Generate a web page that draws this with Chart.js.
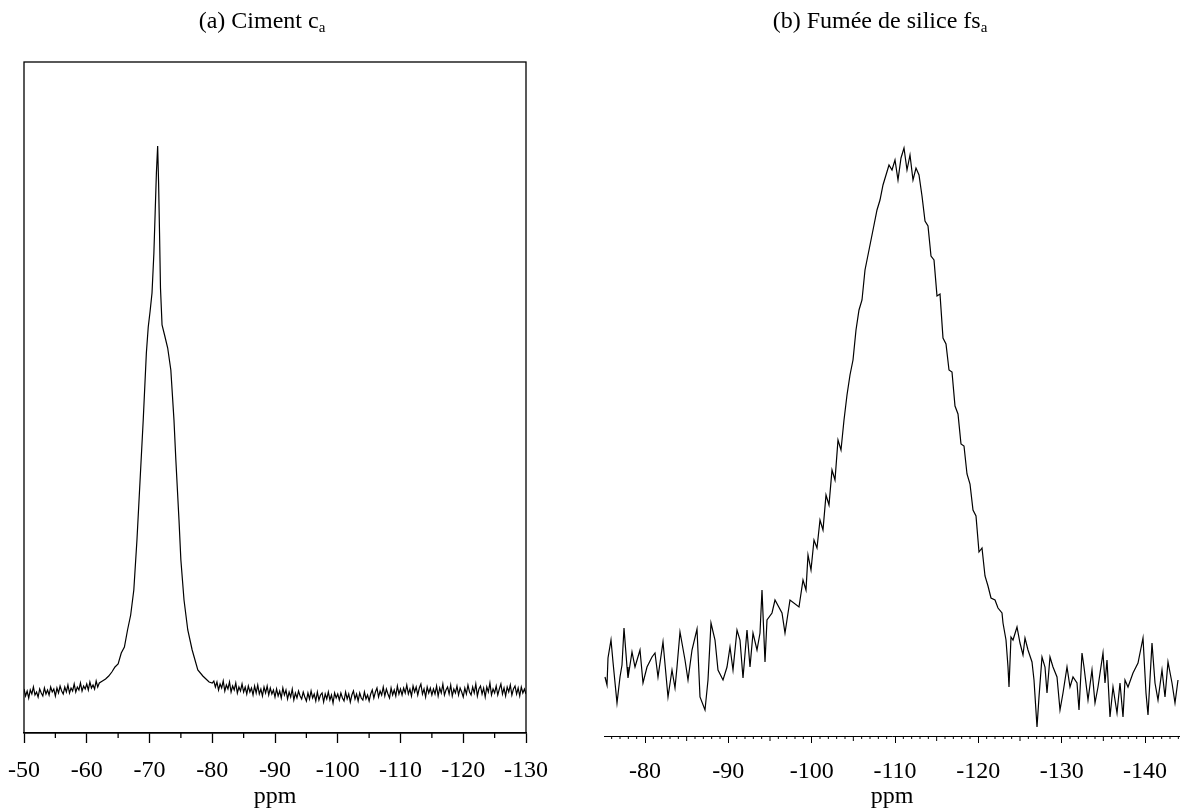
<!DOCTYPE html>
<html><head><meta charset="utf-8">
<script src="https://cdn.jsdelivr.net/npm/chart.js@4.4.0/dist/chart.umd.min.js"></script>
<style>
html,body{margin:0;padding:0;background:#fff;}
#wrap{position:relative;width:1180px;height:808px;overflow:hidden;background:#fff;}
canvas{position:absolute;top:0;}
.ttl{position:absolute;top:7px;font-family:'Liberation Serif','Times New Roman',serif;font-size:24px;line-height:27px;color:#000;white-space:nowrap;text-align:center;}
.ttl sub{font-size:15px;vertical-align:-4px;line-height:0;}
</style></head>
<body><div id="wrap">
<canvas id="ca" width="590" height="808" style="left:0"></canvas>
<canvas id="cb" width="590" height="808" style="left:590px"></canvas>
<div class="ttl" style="left:112px;width:300px">(a) Ciment c<sub>a</sub></div>
<div class="ttl" style="left:730px;width:300px">(b) Fumée de silice fs<sub>a</sub></div>
</div>
<script>
// ---------- Panel (a): Ciment c_a ----------
const ppmA = [
-50,-50.25,-50.5,-50.75,-51,-51.25,-51.5,-51.75,-52,-52.25,-52.5,-52.75,-53,-53.25,-53.5,-53.75,-54,-54.25,-54.5,-54.75,
-55,-55.25,-55.5,-55.75,-56,-56.25,-56.5,-56.75,-57,-57.25,-57.5,-57.75,-58,-58.25,-58.5,-58.75,-59,-59.25,-59.5,-59.75,
-60,-60.25,-60.5,-60.75,-61,-61.25,-61.5,-61.75,-62,
-62.5,-63,-63.5,-64,-64.5,-65,-65.5,-66,-66.5,-67,-67.5,-68,-68.5,-69,-69.5,
-69.8,-70.1,-70.4,-70.7,-70.9,-71.1,-71.3,-71.45,-71.6,-71.75,-72,
-72.4,-72.9,-73.4,-73.9,-74.2,-74.7,-75,-75.5,-76.1,-76.8,-77.7,-78.5,-79,-79.5,-80,
-80.25,-80.5,-80.75,-81,-81.25,-81.5,-81.75,-82,-82.25,-82.5,-82.75,-83,-83.25,-83.5,-83.75,-84,-84.25,-84.5,-84.75,-85,
-85.25,-85.5,-85.75,-86,-86.25,-86.5,-86.75,-87,-87.25,-87.5,-87.75,-88,-88.25,-88.5,-88.75,-89,-89.25,-89.5,-89.75,-90,
-90.25,-90.5,-90.75,-91,-91.25,-91.5,-91.75,-92,-92.25,-92.5,-92.75,-93,-93.25,-93.5,-93.75,-94,-94.25,-94.5,-94.75,-95,
-95.25,-95.5,-95.75,-96,-96.25,-96.5,-96.75,-97,-97.25,-97.5,-97.75,-98,-98.25,-98.5,-98.75,-99,-99.25,-99.5,-99.75,-100,
-100.25,-100.5,-100.75,-101,-101.25,-101.5,-101.75,-102,-102.25,-102.5,-102.75,-103,-103.25,-103.5,-103.75,-104,-104.25,-104.5,-104.75,-105,
-105.25,-105.5,-105.75,-106,-106.25,-106.5,-106.75,-107,-107.25,-107.5,-107.75,-108,-108.25,-108.5,-108.75,-109,-109.25,-109.5,-109.75,-110,
-110.25,-110.5,-110.75,-111,-111.25,-111.5,-111.75,-112,-112.25,-112.5,-112.75,-113,-113.25,-113.5,-113.75,-114,-114.25,-114.5,-114.75,-115,
-115.25,-115.5,-115.75,-116,-116.25,-116.5,-116.75,-117,-117.25,-117.5,-117.75,-118,-118.25,-118.5,-118.75,-119,-119.25,-119.5,-119.75,-120,
-120.25,-120.5,-120.75,-121,-121.25,-121.5,-121.75,-122,-122.25,-122.5,-122.75,-123,-123.25,-123.5,-123.75,-124,-124.25,-124.5,-124.75,-125,
-125.25,-125.5,-125.75,-126,-126.25,-126.5,-126.75,-127,-127.25,-127.5,-127.75,-128,-128.25,-128.5,-128.75,-129,-129.25,-129.5,-129.75,-130
];
const intA = [
44,37,42,35,43,39,46,38,41,36,44,40,37,45,39,43,38,46,41,44,
37,45,40,47,42,39,46,41,48,40,45,42,49,41,46,43,50,42,47,44,
49,43,51,45,48,44,52,46,50,
52,54,57,61,66,69,80,86,103,118,143,193,253,313,380,
406,422,440,480,520,560,587,550,500,445,408,
398,385,363,313,273,213,173,133,103,83,63,57,54,51,50,
52,46,51,43,49,45,52,42,48,44,51,41,47,43,50,40,46,42,49,41,
46,39,47,41,45,38,47,40,48,39,44,37,46,40,47,38,45,39,43,36,
44,37,42,35,45,38,43,34,41,36,44,33,40,35,42,37,34,41,36,32,
40,34,42,35,39,32,41,33,38,40,31,39,34,41,33,38,30,40,35,39,
33,40,35,32,41,34,39,31,38,42,34,39,32,40,35,33,41,34,38,32,
39,43,35,41,45,36,42,38,46,37,44,39,35,45,38,43,37,47,39,44,
38,45,40,48,39,44,37,47,41,46,38,45,49,39,44,36,46,40,45,38,
44,39,47,37,45,40,49,38,43,46,39,48,37,44,40,47,38,45,41,36,
45,39,48,41,38,46,40,49,37,44,47,39,45,36,46,41,50,38,44,40,
47,38,44,49,39,45,37,46,41,48,38,44,47,39,45,37,46,40,44,39
];
const ticksA = [-50,-60,-70,-80,-90,-100,-110,-120,-130];
const minorA = [-55,-65,-75,-85,-95,-105,-115,-125];

// ---------- Panel (b): Fumée de silice fs_a ----------
const ppmB = [
-75.2,-75.44,-75.56,-75.92,-76.16,-76.64,-77.0,-77.24,-77.48,-77.84,-77.96,-78.44,-78.8,-79.4,-79.76,
-80.24,-80.84,-81.2,-81.56,-82.16,-82.76,-83.24,-83.6,-83.84,-84.2,-84.8,-85.16,-85.64,-86.24,-86.6,
-87.2,-87.56,-87.92,-88.4,-88.76,-89.36,-89.84,-90.2,-90.56,-91.04,-91.4,-91.76,-92.24,-92.6,-92.96,
-93.44,-93.8,-94.04,-94.4,-94.64,-95.24,-95.6,-96.44,-96.8,-97.4,-98.48,-98.96,-99.32,-99.56,-99.92,
-100.28,-100.64,-101.0,-101.36,-101.72,-102.08,-102.44,-102.8,-103.16,-103.52,-103.88,-104.24,-104.6,-104.96,
-105.32,-105.68,-106.04,-106.4,-106.76,-107.12,-107.48,-107.84,-108.2,-108.56,-108.92,-109.28,-109.64,-110.0,
-110.36,-110.72,-111.08,-111.44,-111.8,-112.16,-112.52,-112.88,-113.24,-113.6,-113.96,-114.32,-114.68,-115.04,
-115.4,-115.76,-116.12,-116.48,-116.84,-117.2,-117.56,-117.92,-118.28,-118.64,-119.0,-119.36,-119.72,-120.08,
-120.44,-120.8,-121.16,-121.52,-122.0,-122.36,-122.84,-122.96,-123.32,-123.56,-123.68,-123.92,-124.16,-124.64,
-125.0,-125.36,-125.6,-125.96,-126.44,-126.68,-127.04,-127.28,-127.64,-128.0,-128.24,-128.6,-128.96,-129.44,
-129.8,-130.16,-130.64,-131.0,-131.36,-131.84,-132.08,-132.44,-132.68,-133.16,-133.64,-134.0,-134.36,-134.96,
-135.2,-135.44,-135.8,-136.16,-136.64,-137.0,-137.36,-137.6,-137.96,-138.56,-139.16,-139.76,-140.12,-140.36,
-140.84,-141.2,-141.56,-142.04,-142.4,-142.76,-143.24,-143.6,-143.96
];
const intB = [
59,51,78,96,74,33,59,71,108,69,58,84,69,86,53,
69,79,83,59,94,39,66,48,69,104,76,56,86,107,39,
26,56,113,96,66,56,69,89,66,106,96,58,106,69,103,
86,103,146,74,116,123,136,123,103,136,129,156,146,181,166,
196,188,216,206,241,231,266,256,296,286,316,341,361,376,
406,426,436,466,481,496,511,526,536,551,561,571,566,576,
556,578,588,566,581,556,568,561,540,515,510,480,476,440,
442,398,392,366,364,330,322,292,290,262,252,226,220,184,
188,160,150,138,136,128,123,113,96,69,49,99,96,109,
93,81,98,86,74,56,9,39,79,69,43,79,69,59,
26,43,69,49,59,53,26,83,69,36,66,33,49,83,
53,76,19,49,23,53,19,56,49,63,73,98,43,21,
93,53,36,66,39,74,53,33,56
];
const ticksB = [-80,-90,-100,-110,-120,-130,-140];
const midB = [-85,-95,-105,-115,-125,-135];

const FONT = "'Liberation Serif','Times New Roman',serif";

const frameBox = {
  id: 'frameBox',
  afterDraw(chart, args, opts) {
    if (!opts.show) return;
    const ctx = chart.ctx, a = chart.chartArea;
    ctx.save();
    ctx.strokeStyle = opts.color; ctx.lineWidth = opts.width;
    ctx.strokeRect(a.left, a.top, a.right - a.left, a.bottom - a.top);
    ctx.restore();
  }
};
const minorTicks = {
  id: 'minorTicks',
  afterDraw(chart, args, opts) {
    const s = chart.scales.x, ctx = chart.ctx;
    ctx.save();
    ctx.strokeStyle = opts.color; ctx.lineWidth = opts.width;
    (opts.sets || []).forEach(set => {
      set.values.forEach(v => {
        const px = s.getPixelForValue(v);
        ctx.beginPath(); ctx.moveTo(px, s.top); ctx.lineTo(px, s.top + set.length); ctx.stroke();
      });
    });
    ctx.restore();
  }
};

function makeChart(id, ppm, inten, cfg) {
  return new Chart(document.getElementById(id), {
    type: 'line',
    data: { datasets: [{
      data: ppm.map((x, i) => ({ x: x, y: inten[i] })),
      borderColor: '#000', borderWidth: 1.2, pointRadius: 0, fill: false, tension: 0
    }]},
    options: {
      responsive: false, animation: false, devicePixelRatio: 1,
      layout: { padding: cfg.padding },
      plugins: {
        legend: { display: false }, tooltip: { enabled: false }, title: { display: false },
        frameBox: { show: cfg.box, color: '#000', width: 1.3 },
        minorTicks: { color: '#000', width: cfg.tickWidth, sets: cfg.minorSets }
      },
      scales: {
        x: {
          type: 'linear', min: cfg.min, max: cfg.max, reverse: true,
          afterBuildTicks: s => { s.ticks = cfg.ticks.map(v => ({ value: v })); },
          afterFit: s => { s.height = cfg.axisHeight; s.paddingLeft = 0; s.paddingRight = 0; },
          grid: { display: true, drawOnChartArea: false, drawTicks: true, tickLength: cfg.tickLength, tickWidth: cfg.tickWidth, tickColor: '#000' },
          border: { display: true, color: '#000', width: cfg.tickWidth },
          ticks: { font: { family: FONT, size: 24 }, color: '#000', padding: cfg.tickPad, maxRotation: 0, autoSkip: false, callback: v => String(v) },
          title: { display: true, text: 'ppm', font: { family: FONT, size: 24 }, color: '#000', padding: { top: -3, bottom: -3 } }
        },
        y: { display: false, min: 0, max: cfg.ymax }
      }
    },
    plugins: [frameBox, minorTicks]
  });
}

makeChart('ca', ppmA, intA, {
  padding: { left: 24, right: 64, top: 62, bottom: 0 },
  min: -130, max: -50, ticks: ticksA, axisHeight: 75, tickLength: 10, tickWidth: 1.3, tickPad: 13,
  ymax: 671, box: true,
  minorSets: [{ values: minorA, length: 5 }]
});

const minorB = [];
for (let v = -76; v >= -144; v--) { if (v % 5 !== 0) minorB.push(v); }
makeChart('cb', ppmB, intB, {
  padding: { left: 14, right: 0, top: 62, bottom: 0 },
  min: -144.2, max: -75.08, ticks: ticksB, axisHeight: 72, tickLength: 7, tickWidth: 1, tickPad: 14,
  ymax: 674, box: false,
  minorSets: [{ values: midB, length: 5 }, { values: minorB, length: 3 }]
});
</script>
</body></html>
